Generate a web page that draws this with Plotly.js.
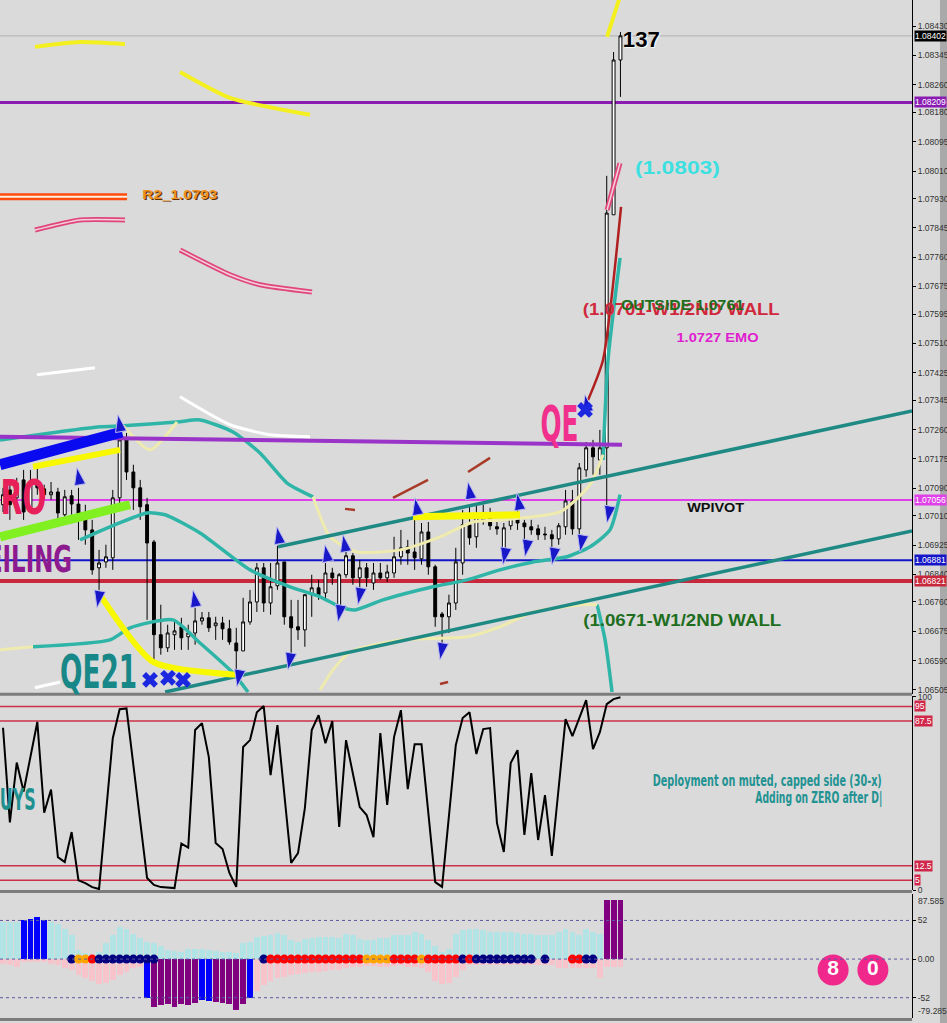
<!DOCTYPE html>
<html><head><meta charset="utf-8">
<script src="https://cdn.plot.ly/plotly-3.0.1.min.js"></script>
<style>html,body{margin:0;padding:0;background:#DADADA;overflow:hidden}#chart{width:947px;height:1023px}</style>
</head><body><div id="chart"></div>
<script>
// ---------------- price candles (bar index 0..90) ----------------
const openP = [1.07042,1.07085,1.07062,1.07114,1.07033,1.07108,1.07088,1.07071,1.07079,1.07013,
1.07068,1.07044,1.07004,1.06969,1.06859,1.06876,1.06888,1.07062,1.07236,1.07137,
1.07091,1.07042,1.06934,1.06665,1.06627,1.06665,1.06688,1.06659,1.06670,1.06705,
1.06714,1.06691,1.06699,1.06682,1.06641,1.06618,1.06702,1.06760,1.06859,1.06757,
1.06807,1.06876,1.06717,1.06688,1.06679,1.06781,1.06801,1.06786,1.06844,1.06743,
1.06839,1.06894,1.06830,1.06859,1.06815,1.06844,1.06830,1.06844,1.06891,1.06920,
1.06905,1.06885,1.06963,1.06862,1.06725,1.06717,1.06757,1.06873,1.06984,1.06949,
1.06998,1.07010,1.06978,1.06914,1.06981,1.07007,1.06989,1.06978,1.06972,1.06957,
1.06955,1.06943,1.06978,1.07053,1.06972,1.07143,1.07207,1.07172,1.07207,1.07883,
1.08332];
const highP = [1.07091,1.07100,1.07120,1.07143,1.07143,1.07149,1.07100,1.07108,1.07091,1.07085,
1.07085,1.07091,1.07042,1.06998,1.06911,1.06926,1.07085,1.07250,1.07250,1.07158,
1.07114,1.07062,1.06940,1.06752,1.06694,1.06708,1.06714,1.06694,1.06743,1.06731,
1.06731,1.06717,1.06717,1.06708,1.06685,1.06772,1.06795,1.06873,1.06873,1.06873,
1.06923,1.06876,1.06766,1.06766,1.06781,1.06839,1.06824,1.06873,1.06859,1.06844,
1.06917,1.06902,1.06882,1.06873,1.06873,1.06873,1.06868,1.06949,1.06969,1.06940,
1.07004,1.06989,1.06992,1.06868,1.06731,1.06781,1.06917,1.07027,1.07042,1.07042,
1.07042,1.07033,1.06992,1.06989,1.07018,1.07027,1.06998,1.06998,1.06984,1.06978,
1.06969,1.06989,1.07085,1.07085,1.07163,1.07224,1.07230,1.07259,1.07996,1.08355,
1.08413];
const lowP = [1.07021,1.06998,1.07050,1.06998,1.07021,1.07071,1.07056,1.07056,1.06998,1.06998,
1.07013,1.06940,1.06926,1.06839,1.06795,1.06859,1.06853,1.07042,1.07114,1.07027,
1.06998,1.06708,1.06583,1.06607,1.06615,1.06621,1.06621,1.06621,1.06636,1.06694,
1.06673,1.06650,1.06650,1.06636,1.06549,1.06618,1.06694,1.06731,1.06731,1.06723,
1.06795,1.06694,1.06612,1.06650,1.06630,1.06717,1.06766,1.06766,1.06810,1.06731,
1.06830,1.06810,1.06801,1.06804,1.06795,1.06824,1.06818,1.06830,1.06868,1.06868,
1.06853,1.06868,1.06839,1.06688,1.06636,1.06670,1.06737,1.06839,1.06926,1.06917,
1.06984,1.06969,1.06955,1.06911,1.06969,1.06969,1.06926,1.06955,1.06940,1.06940,
1.06917,1.06926,1.06955,1.06955,1.06949,1.07123,1.07129,1.07129,1.07036,1.07883,
1.08225];
const closeP = [1.07071,1.07042,1.07105,1.07021,1.07108,1.07091,1.07071,1.07079,1.07018,1.07065,
1.07044,1.07007,1.06969,1.06853,1.06873,1.06891,1.07062,1.07230,1.07137,1.07091,
1.07036,1.06931,1.06665,1.06627,1.06670,1.06676,1.06656,1.06670,1.06705,1.06714,
1.06685,1.06699,1.06682,1.06644,1.06618,1.06702,1.06760,1.06859,1.06757,1.06804,
1.06873,1.06717,1.06685,1.06679,1.06781,1.06801,1.06781,1.06844,1.06830,1.06839,
1.06894,1.06830,1.06859,1.06830,1.06844,1.06830,1.06847,1.06891,1.06917,1.06902,
1.06888,1.06963,1.06862,1.06717,1.06717,1.06757,1.06876,1.06984,1.06946,1.07007,
1.07010,1.06981,1.06972,1.06975,1.07007,1.06989,1.06978,1.06969,1.06955,1.06955,
1.06943,1.06981,1.07053,1.06972,1.07149,1.07207,1.07181,1.07207,1.07888,1.08332,
1.08402];
const barIdx = openP.map((_, i) => i);

// right axis ticks
const priceTicks = [1.08430,1.08345,1.08260,1.08180,1.08095,1.08010,1.07930,1.07845,1.07760,1.07675,1.07595,1.07510,
1.07425,1.07345,1.07260,1.07175,1.07090,1.07010,1.06925,1.06840,1.06760,1.06675,1.06590,1.06505];
const priceLevels = [1.08209, 1.07056, 1.06881, 1.06821];
const priceLevelColors = ['#8A1CB4', '#E040E8', '#1414C8', '#C8283C'];
const priceLevelWidths = [3, 2, 2, 4];
const bidPrice = 1.08402;

// ---------------- drawn overlays (x = bar index, y = price) ----------------
const upperChanX = [40.09, 132.5], upperChanY = [1.06920, 1.07314];
const lowerChanX = [23.62, 132.5], lowerChanY = [1.06499, 1.06966];
const purpleSlopeX = [-0.44, 90.23], purpleSlopeY = [1.07239, 1.07216];
const blueThickX = [-0.44, 17.35], blueThickY = [1.07158, 1.07253];
const greenThickX = [-0.44, 18.51], greenThickY = [1.06949, 1.07042];
const bandUpX = [-0.44, 8.02, 14.14, 17.5, 25.36, 28.72, 33.53, 37.46, 41.40, 45.19];
const bandUpY = [1.07230, 1.07253, 1.07268, 1.07271, 1.07282, 1.07288, 1.07253, 1.07192, 1.07105, 1.07065];
const bandMidX = [11.22, 15.6, 20.99, 23.62, 28.72, 36.01, 41.84, 46.21, 49.13, 51.31, 55.39, 62.68, 67.64, 72.45, 77.26, 82.22, 85.57, 88.48, 89.94];
const bandMidY = [1.06940, 1.06978, 1.07018, 1.07013, 1.06960, 1.06853, 1.06804, 1.06775, 1.06746, 1.06737, 1.06766, 1.06804, 1.06824, 1.06853, 1.06876, 1.06891, 1.06920, 1.06969, 1.07071];
const bandLowX = [4.37, 15.6, 18.51, 24.78, 28.72, 33.53, 35.71];
const bandLowY = [1.06630, 1.06650, 1.06685, 1.06708, 1.06641, 1.06554, 1.06499];
const bandLowRX = [86.59, 87.76, 88.78], bandLowRY = [1.06752, 1.06650, 1.06499];
const bandSpikeX = [87.46, 88.19, 89.94], bandSpikeY = [1.07172, 1.07462, 1.07758];
const paleUpX = [45.19, 47.67, 51.6, 57.87, 63.7, 68.51, 72.45, 81.2, 85.57, 87.46];
const paleUpY = [1.07065, 1.06949, 1.06905, 1.06911, 1.06949, 1.06992, 1.06998, 1.07021, 1.07100, 1.07187];
const paleLowX = [46.21, 48.1, 50.58, 57.87, 67.64, 72.45, 77.26, 84.55, 86.59];
const paleLowY = [1.06505, 1.06563, 1.06615, 1.06650, 1.06659, 1.06688, 1.06731, 1.06752, 1.06752];
const paleDipX = [17.5, 21.43, 25.36], paleDipY = [1.07271, 1.07201, 1.07282];
const paleLeftX = [-0.44, 4.37], paleLeftY = [1.06621, 1.06630];
const yellowA_X = [4.66, 11.22, 17.78], yellowA_Y = [1.08370, 1.08384, 1.08378];
const yellowB_X = [25.80, 33.09, 44.75], yellowB_Y = [1.08297, 1.08222, 1.08173];
const yellowC_X = [88.05, 90.0], yellowC_Y = [1.08399, 1.08520];
const yellowD_X = [4.37, 17.06], yellowD_Y = [1.07152, 1.07201];
const yellowE_X = [13.85, 21.87, 33.82], yellowE_Y = [1.06789, 1.06586, 1.06549];
const yellowF_X = [59.77, 75.36], yellowF_Y = [1.07007, 1.07013];
const pinkA_X = [4.66, 11.22, 17.78], pinkA_Y = [1.07839, 1.07868, 1.07868];
const pinkB_X = [25.80, 33.09, 37.46, 45.04], pinkB_Y = [1.07781, 1.07709, 1.07680, 1.07659];
const pinkC_X = [88.05, 89.94], pinkC_Y = [1.07897, 1.08033];
const orangeR2_X = [-0.44, 18.08], orangeR2_Y = [1.07935, 1.07935];
const whiteA_X = [4.95, 13.41], whiteA_Y = [1.07419, 1.07439];
const whiteB_X = [25.80, 33.09, 38.92, 44.75], whiteB_Y = [1.07355, 1.07274, 1.07245, 1.07239];
const whiteC_X = [4.66, 8.31], whiteC_Y = [1.06511, 1.06528];
const redSpikeX = [85.28, 87.46, 90.09], redSpikeY = [1.07346, 1.07462, 1.07906];
const brownStrokes = [
  {x: [56.85, 61.95], y: [1.07062, 1.07114]},
  {x: [67.78, 70.99], y: [1.07137, 1.07178]},
  {x: [49.85, 51.31], y: [1.07030, 1.07027]},
  {x: [63.70, 64.87], y: [1.06522, 1.06528]}
];
const upArrowX = [16.76, 10.79, 27.70, 39.94, 46.94, 49.56, 60.06, 67.78, 74.93, 84.84];
const upArrowY = [1.07303, 1.07149, 1.06795, 1.06978, 1.06926, 1.06955, 1.07062, 1.07108, 1.07076, 1.07361];
const downArrowX = [13.70, 41.55, 48.83, 51.75, 63.70, 72.89, 76.09, 80.03, 84.11, 88.05, 34.11];
const downArrowY = [1.06743, 1.06563, 1.06702, 1.06752, 1.06592, 1.06868, 1.06891, 1.06868, 1.06905, 1.06989, 1.06514];
const crossX = [21.43, 24.05, 26.24, 84.84], crossY = [1.06534, 1.06540, 1.06534, 1.07317];

// ---------------- stochastic ----------------
const stochIdx = [0,1,2,3,5,6,7,8,9,10,11,12,13,14,16,17,18,21,22,23,25,26,27,28,29,30,31,32,33,34,35,36,37,38,39,40,
42,43,44,45,46,47,48,49,50,52,53,54,55,56,57,58,59,60,61,63,64,66,67,68,69,70,71,72,73,74,75,76,77,78,79,80,82,83,85,86,87,88,89,90];
const stochVal = [84,35,66,51,87,40,52,17,14.5,30,5,3.6,1.5,0.5,78.6,93.6,94,6.2,2.6,1.5,1,24,22,82.8,86.4,68.8,24.3,21.2,8.8,1.6,74,77.6,92,95.2,59.5,85.4,
14,19.1,42.4,82.8,90.5,76,87.4,32.6,77.6,42.9,38.8,27.4,81.2,44,79.2,93.1,52.2,75.5,75.5,4.1,1.6,75,89,92,70.4,83.3,83.8,34.7,19.7,65.7,72.4,28.5,60.5,25.9,49.1,17.6,88.5,79.7,98.3,72.9,81.7,96.2,98.8,99.8];
const stochLevels = [95, 87.5, 12.5, 5];

// ---------------- histogram ----------------
const cyanVals = [50,50,50,50,50,50,50,50,47,41, 32,12,8,5,10,21,32,43,41,34, 28,23,21,17,12,11,10,13,14,13,
12,11,10,10,8,21,23,30,31,32, 35,32,25,23,27,28,30,30,30,28, 34,32,27,25,25,28,28,32,33,32,
36,34,25,17,10,14,34,39,40,40, 39,37,36,36,36,35,34,34,33,32, 33,36,41,36,33,40,36,34,50,50, 50];
const pinkVals = [-6,-8,-10,-4,-4,-4,-4,-6,-8,-12, -15,-21,-26,-30,-34,-32,-28,-21,-17,-12, -10,-20,-20,-20,-20,-20,-20,-20,-20,-20,
-20,-20,-20,-20,-20,-20,-20,-43,-35,-30, -26,-24,-21,-20,-19,-18,-17,-16,-15,-15, -12,-10,-10,-9,-9,-10,-10,-9,-8,-10,
-11,-12,-17,-30,-34,-32,-24,-15,-8,-8, -8,-8,-8,-8,-8,-8,-8,-8,-8,-8, -8,-12,-12,-12,-12,-12,-12,-25,-10,-10, -10];
const strongIdx = [3,4,5,6,21,22,23,24,25,26,27,28,29,30,31,32,33,34,35,36,88,89,90];
const strongVals = [52,54,56,52,-52,-64,-62,-61,-64,-61,-62,-59,-55,-56,-58,-59,-60,-69,-61,-52,80,80,80];
const strongColors = ['#0000FF','#0000FF','#0000FF','#0000FF','#0000FF','#800080','#800080','#800080','#800080','#800080','#800080','#800080',
'#0000FF','#0000FF','#800080','#800080','#800080','#800080','#800080','#0000FF','#800080','#800080','#800080'];
const dotIdx = [10,11,12,13,14,15,16,17,18,19,20,21,22,38,39,40,41,42,43,44,45,46,47,48,49,50,51,52,53,54,55,56,57,58,59,60,61,62,63,64,65,66,67,68,69,70,71,72,73,74,75,76,77,79,83,84,85,86];
const N_='#000080', O_='#FFA500', R_='#FF0000';
const dotColors = [N_,O_,O_,R_,N_,N_,N_,N_,N_,N_,N_,N_,N_, N_,R_,R_,R_,R_,R_,R_,R_,R_,R_,R_,R_,R_,R_,R_,O_,O_,O_,O_,R_,R_,R_,R_,O_,R_,R_,R_,R_,R_,N_,R_,N_,N_,N_,N_,N_,N_,N_,N_,N_,N_,R_,R_,N_,N_];
const histLevels = [52, 0, -52];
const histTicks = [52, 0, -52];
const histTickText = ['52', '0.00', '-52'];
const histMax = 87.585, histMin = -79.285;
const badgeX = [121, 126.8], badgeY = [-14.8, -14.8], badgeText = ['8', '0'];

// ---------------- build ----------------
const NARROW = '"Liberation Sans Narrow","DejaVu Sans Condensed","Roboto Condensed","Arial Narrow","Liberation Sans",sans-serif';
const SANS = '"Liberation Sans",Arial,"DejaVu Sans",sans-serif';
const traces = [];
function line(x, y, color, width, yaxis) {
  traces.push({type: 'scatter', mode: 'lines', x: x, y: y, yaxis: yaxis || 'y', hoverinfo: 'skip',
    line: {color: color, width: width, shape: 'spline', smoothing: 0.6}, showlegend: false});
}
line(bandUpX, bandUpY, '#2FB5A8', 3.5);
line(bandMidX, bandMidY, '#2FB5A8', 3.5);
line(bandLowX, bandLowY, '#2FB5A8', 3.5);
line(bandLowRX, bandLowRY, '#2FB5A8', 3.5);
line(bandSpikeX, bandSpikeY, '#2FB5A8', 3.5);
line(paleUpX, paleUpY, '#EFEAAE', 3);
line(paleLowX, paleLowY, '#EFEAAE', 3);
line(paleDipX, paleDipY, '#EFEAAE', 3);
line(paleLeftX, paleLeftY, '#EFEAAE', 3);
line(upperChanX, upperChanY, '#1F8A84', 3.5);
line(lowerChanX, lowerChanY, '#1F8A84', 3.5);
line(purpleSlopeX, purpleSlopeY, '#9A34C8', 4);
line(blueThickX, blueThickY, '#0A0AF0', 11);
line(greenThickX, greenThickY, '#80F020', 9);
line(yellowA_X, yellowA_Y, '#F4F020', 4);
line(yellowB_X, yellowB_Y, '#F4F020', 4);
line(yellowC_X, yellowC_Y, '#F4F020', 4);
line(yellowD_X, yellowD_Y, '#F8F800', 6);
line(yellowE_X, yellowE_Y, '#F8F800', 6);
line(yellowF_X, yellowF_Y, '#F8F800', 7);
line(pinkA_X, pinkA_Y, '#E0457C', 5); line(pinkA_X, pinkA_Y, '#F2D2DC', 1.5);
line(pinkB_X, pinkB_Y, '#E0457C', 5); line(pinkB_X, pinkB_Y, '#F2D2DC', 1.5);
line(pinkC_X, pinkC_Y, '#E0457C', 5); line(pinkC_X, pinkC_Y, '#F2D2DC', 1.5);
line(orangeR2_X, orangeR2_Y, '#FF4A10', 7); line(orangeR2_X, orangeR2_Y, '#FFF0E0', 2);
line(whiteA_X, whiteA_Y, '#FFFFFF', 3);
line(whiteB_X, whiteB_Y, '#FFFFFF', 3);
line(whiteC_X, whiteC_Y, '#FFFFFF', 3);
line(redSpikeX, redSpikeY, '#B02020', 2.5);
brownStrokes.forEach(s => line(s.x, s.y, '#A83A28', 2.5));

traces.push({type: 'candlestick', x: barIdx, open: openP, high: highP, low: lowP, close: closeP,
  xaxis: 'x', yaxis: 'y', hoverinfo: 'skip', showlegend: false, whiskerwidth: 0,
  increasing: {line: {color: '#000000', width: 1}, fillcolor: '#FFFFFF'},
  decreasing: {line: {color: '#000000', width: 1}, fillcolor: '#000000'}});

traces.push({type: 'scatter', mode: 'markers', x: upArrowX, y: upArrowY, hoverinfo: 'skip', showlegend: false,
  marker: {symbol: 'arrow', angle: -10, size: 18, color: '#1818C8', line: {color: '#B8B8F0', width: 1}}});
traces.push({type: 'scatter', mode: 'markers', x: downArrowX, y: downArrowY, hoverinfo: 'skip', showlegend: false,
  marker: {symbol: 'arrow', angle: 190, size: 18, color: '#1818C8', line: {color: '#B8B8F0', width: 1}}});
traces.push({type: 'scatter', mode: 'markers', x: crossX, y: crossY, hoverinfo: 'skip', showlegend: false,
  marker: {symbol: 'x', size: 14, color: '#1C28E0', line: {width: 0}}});

// stochastic
traces.push({type: 'scatter', mode: 'lines', x: stochIdx, y: stochVal, yaxis: 'y2', hoverinfo: 'skip', showlegend: false,
  line: {color: '#000000', width: 2}});

// histogram
traces.push({type: 'bar', x: barIdx, y: cyanVals, yaxis: 'y3', width: 0.85, marker: {color: '#B2E4E6', line: {width: 0}}, hoverinfo: 'skip', showlegend: false});
traces.push({type: 'bar', x: barIdx, y: pinkVals, yaxis: 'y3', width: 0.85, marker: {color: '#F8C4CC', line: {width: 0}}, hoverinfo: 'skip', showlegend: false});
traces.push({type: 'bar', x: strongIdx, y: strongVals, yaxis: 'y3', width: 0.85, marker: {color: strongColors, line: {width: 0}}, hoverinfo: 'skip', showlegend: false});
traces.push({type: 'scatter', mode: 'markers', x: dotIdx, y: dotIdx.map(() => 0), yaxis: 'y3', hoverinfo: 'skip', showlegend: false,
  marker: {size: 9, color: dotColors, line: {width: 0}}});
traces.push({type: 'scatter', mode: 'markers+text', x: badgeX, y: badgeY, yaxis: 'y3', text: badgeText, hoverinfo: 'skip', showlegend: false,
  marker: {size: 31, color: '#F0288C'}, textposition: 'middle center',
  textfont: {family: SANS, size: 21, color: '#FFFFFF', weight: 'bold'}, cliponaxis: false});

// shapes
const shapes = [];
priceLevels.forEach((v, i) => shapes.push({type: 'line', xref: 'paper', x0: 0, x1: 1, yref: 'y', y0: v, y1: v, layer: 'below',
  line: {color: priceLevelColors[i], width: priceLevelWidths[i]}}));
shapes.push({type: 'line', xref: 'paper', x0: 0, x1: 1, yref: 'y', y0: bidPrice, y1: bidPrice, layer: 'below', line: {color: '#B0B0B0', width: 1}});
stochLevels.forEach(v => shapes.push({type: 'line', xref: 'paper', x0: 0, x1: 1, yref: 'y2', y0: v, y1: v, layer: 'below', line: {color: '#CC3048', width: 1.5}}));
histLevels.forEach(v => shapes.push({type: 'line', xref: 'paper', x0: 0, x1: 1, yref: 'y3', y0: v, y1: v, layer: 'above', line: {color: '#5A5AA0', width: 1, dash: 'dot'}}));
[0.3213, 0.1285, 0.0035].forEach(p => shapes.push({type: 'line', xref: 'paper', x0: 0, x1: 1, yref: 'paper', y0: p, y1: p, layer: 'above', line: {color: '#7C7C7C', width: 3}}));
shapes.push({type: 'rect', xref: 'paper', x0: 1.0307, x1: 1.04, yref: 'paper', y0: 0, y1: 1, layer: 'below', fillcolor: '#A9A9A9', line: {width: 0}});

// annotations ; x is the text centre, fit = wanted text width in px (glyphs squeezed/stretched to it around the centre)
const ann = [];
const fitWidths = {};
function txt(x, y, text, color, size, family, fit, opts) {
  const a = Object.assign({xref: 'x', yref: 'y', x: x, y: y, text: '<b>' + text + '</b>', showarrow: false,
    font: {family: family || SANS, size: size, color: color}, xanchor: 'center', yanchor: 'middle'}, opts || {});
  ann.push(a);
  if (fit) fitWidths[text] = fit;
}
txt(93.0, 1.08390, '137', '#000000', 22, SANS, 37, {font: {family: SANS, size: 22, color: '#000', shadow: '1px 1px 1px #fff'}});
txt(98.3, 1.08019, '(1.0803)', '#3CE0E0', 19, SANS, 85);
txt(98.8, 1.07607, '(1.0701-W1/2ND WALL', '#D0283C', 17, SANS, 197);
txt(99.1, 1.07622, 'OUTSIDE 1.0761', '#1E6E1E', 14, SANS, 123);
txt(104.1, 1.07526, '1.0727 EMO', '#E020D0', 13, SANS, 82);
txt(81.05, 1.07276, 'QE', '#F0308C', 50, NARROW, 38);
txt(103.9, 1.07033, 'WPIVOT', '#101010', 13, SANS, 57);
txt(98.98, 1.06705, '(1.0671-W1/2ND WALL', '#1E6E1E', 17, SANS, 198);
txt(13.85, 1.06557, 'QE21', '#178787', 46, NARROW, 77);
txt(2.62, 1.06882, 'CEILING', '#8E1A90', 37, NARROW, 102);
txt(0, 1.07065, 'ZERO', '#E8205A', 48, NARROW, 86);
txt(25.8, 1.07941, 'R2_1.0793', '#F09020', 13, SANS, 75, {font: {family: SANS, size: 13, color: '#F09020', shadow: '1px 1px 0 #5A3000'}});
txt(1.17, 46.6, 'BUYS', '#1E9090', 30, NARROW, 48, {yref: 'y2'});
txt(111.44, 56.4, 'Deployment on muted, capped side (30-x)', '#229292', 15, NARROW, 229, {yref: 'y2'});
txt(118.88, 47.6, 'Adding on ZERO after D|', '#229292', 15, NARROW, 127, {yref: 'y2'});
// axis value boxes
function box(yref, v, label, bg) {
  ann.push({xref: 'paper', x: 1, xanchor: 'left', xshift: 2, yref: yref, y: v, yanchor: 'middle', showarrow: false,
    text: label, bgcolor: bg, borderpad: 0, font: {family: SANS, size: 8.5, color: '#FFFFFF'}});
}
box('y', bidPrice, bidPrice.toFixed(5), '#000000');
priceLevels.forEach((v, i) => box('y', v, v.toFixed(5), priceLevelColors[i]));
stochLevels.forEach(v => box('y2', v, String(v), '#D0284A'));
ann.push({xref: 'paper', x: 1, xanchor: 'left', xshift: 4, yref: 'y3', y: histMax, yanchor: 'top', showarrow: false,
  text: String(histMax), font: {family: SANS, size: 8.5, color: '#333'}});
ann.push({xref: 'paper', x: 1, xanchor: 'left', xshift: 4, yref: 'y3', y: histMin, yanchor: 'bottom', showarrow: false,
  text: String(histMin), font: {family: SANS, size: 8.5, color: '#333'}});

const axBase = {side: 'right', anchor: 'x', showgrid: false, zeroline: false, showline: true, linecolor: '#000', linewidth: 1,
  ticks: 'outside', ticklen: 3, tickcolor: '#000', tickfont: {family: SANS, size: 8.5, color: '#333'}, fixedrange: true};
const layout = {
  width: 947, height: 1023, margin: {l: 0, r: 35, t: 0, b: 0}, paper_bgcolor: '#DADADA', plot_bgcolor: '#DADADA',
  showlegend: false, barmode: 'overlay', boxgap: 0.4, bargap: 0,
  xaxis: {range: [-0.44, 132.5], showticklabels: false, showgrid: false, zeroline: false, ticks: '', rangeslider: {visible: false}, fixedrange: true},
  yaxis: Object.assign({}, axBase, {domain: [0.3216, 1], range: [1.06493, 1.08506], tickvals: priceTicks, ticktext: priceTicks.map(v => v.toFixed(5))}),
  yaxis2: Object.assign({}, axBase, {domain: [0.1300, 0.3196], range: [0, 100.4], tickvals: [100, 0], ticktext: ['100', '0']}),
  yaxis3: Object.assign({}, axBase, {domain: [0.0049, 0.1261], range: [-79.3, 87.6], tickvals: histTicks, ticktext: histTickText}),
  shapes: shapes, annotations: ann
};
function fitTexts() {
  document.querySelectorAll('text.annotation-text').forEach(t => {
    const w = fitWidths[t.textContent];
    if (w) { t.setAttribute('textLength', w); t.setAttribute('lengthAdjust', 'spacingAndGlyphs'); }
  });
}
Plotly.newPlot('chart', traces, layout, {staticPlot: true, displayModeBar: false}).then(fitTexts);
</script></body></html>
